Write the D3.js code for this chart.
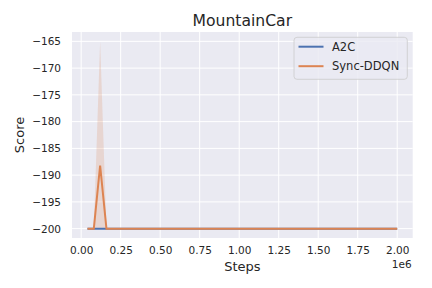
<!DOCTYPE html>
<html>
<head>
    <script src="https://d3js.org/d3.v7.min.js"></script>
    <style>
        body { margin: 0; background: #fff; }
        text { font-family: "DejaVu Sans", sans-serif; fill: #262626; }
    </style>
</head>
<body>
    <div id="chart"></div>

    <script>
        // Data (steps, mean score, CI band)
        const steps = [40000, 80000, 120000, 160000, 2000000];
        const a2c = [-200, -200, -200, -200, -200];
        const ddqn = [-200, -200, -188.2, -200, -200];
        const ddqnLow = [-200, -200, -200, -200, -200];
        const ddqnHigh = [-200, -200, -165, -200, -200];
        const seriesNames = ["A2C", "Sync-DDQN"];
        const colors = ["#4c72b0", "#dd8452"];
        const xTicks = [0, 250000, 500000, 750000, 1000000, 1250000, 1500000, 1750000, 2000000];
        const yTicks = [-200, -195, -190, -185, -180, -175, -170, -165];

        const width = 432, height = 288;
        const plot = { left: 72, right: 412.7, top: 32, bottom: 238 };

        const svg = d3.select("#chart").append("svg")
            .attr("width", width)
            .attr("height", height);

        // matplotlib style 5% margins
        const xMin = d3.min(steps), xMax = d3.max(steps);
        const xPad = (xMax - xMin) * 0.05;
        const x = d3.scaleLinear()
            .domain([xMin - xPad, xMax + xPad])
            .range([plot.left, plot.right]);

        const yMin = -200, yMax = d3.max(ddqnHigh);
        const yPad = (yMax - yMin) * 0.05;
        const y = d3.scaleLinear()
            .domain([yMin - yPad, yMax + yPad])
            .range([plot.bottom, plot.top]);

        // Background
        svg.append("rect")
            .attr("x", plot.left).attr("y", plot.top)
            .attr("width", plot.right - plot.left).attr("height", plot.bottom - plot.top)
            .attr("fill", "#eaeaf2");

        // Grid
        svg.append("g").selectAll("line").data(xTicks).join("line")
            .attr("x1", d => x(d)).attr("x2", d => x(d))
            .attr("y1", plot.top).attr("y2", plot.bottom)
            .attr("stroke", "#fff").attr("stroke-width", 1);
        svg.append("g").selectAll("line").data(yTicks).join("line")
            .attr("x1", plot.left).attr("x2", plot.right)
            .attr("y1", d => y(d)).attr("y2", d => y(d))
            .attr("stroke", "#fff").attr("stroke-width", 1);

        // Axes (no ticks, no domain line)
        svg.append("g")
            .attr("transform", `translate(0,${plot.bottom})`)
            .call(d3.axisBottom(x).tickValues(xTicks).tickSize(0).tickPadding(9)
                .tickFormat(d => (d / 1e6).toFixed(2)));
        svg.append("g")
            .attr("transform", `translate(${plot.left},0)`)
            .call(d3.axisLeft(y).tickValues(yTicks).tickSize(0).tickPadding(11)
                .tickFormat(d => "\u2212" + Math.abs(d)));
        svg.selectAll(".domain").remove();
        svg.selectAll(".tick text")
            .attr("font-family", "DejaVu Sans, sans-serif")
            .attr("font-size", 10.5)
            .attr("fill", "#262626");

        // CI band
        const idx = d3.range(steps.length);
        svg.append("path")
            .datum(idx)
            .attr("fill", colors[1])
            .attr("fill-opacity", 0.2)
            .attr("d", d3.area()
                .x(i => x(steps[i]))
                .y0(i => y(ddqnLow[i]))
                .y1(i => y(ddqnHigh[i])));

        // Lines
        const line = vals => d3.line()
            .x(i => x(steps[i]))
            .y(i => y(vals[i]))(idx);
        [a2c, ddqn].forEach((vals, k) => {
            svg.append("path")
                .attr("d", line(vals))
                .attr("fill", "none")
                .attr("stroke", colors[k])
                .attr("stroke-width", 2);
        });

        // Title and labels
        const cx = (plot.left + plot.right) / 2;
        svg.append("text")
            .attr("x", cx).attr("y", 25.5)
            .attr("text-anchor", "middle")
            .attr("font-size", 15.6)
            .text("MountainCar");
        svg.append("text")
            .attr("x", cx).attr("y", 271)
            .attr("text-anchor", "middle")
            .attr("font-size", 13)
            .text("Steps");
        svg.append("text")
            .attr("transform", `translate(24,${(plot.top + plot.bottom) / 2}) rotate(-90)`)
            .attr("text-anchor", "middle")
            .attr("font-size", 13)
            .text("Score");
        svg.append("text")
            .attr("x", plot.right - 1).attr("y", 267.5)
            .attr("text-anchor", "end")
            .attr("font-size", 10.5)
            .text("1e6");

        // Legend
        const lg = svg.append("g");
        lg.append("rect")
            .attr("x", 294).attr("y", 37.3)
            .attr("width", 113.3).attr("height", 42)
            .attr("rx", 3)
            .attr("fill", "#eaeaf2")
            .attr("fill-opacity", 0.8)
            .attr("stroke", "#cccccc")
            .attr("stroke-width", 0.8);
        seriesNames.forEach((name, k) => {
            const ly = 46.7 + k * 19.5;
            lg.append("line")
                .attr("x1", 298.5).attr("x2", 323.5)
                .attr("y1", ly).attr("y2", ly)
                .attr("stroke", colors[k]).attr("stroke-width", 2);
            lg.append("text")
                .attr("x", 332).attr("y", ly + 4)
                .attr("font-size", 11.5)
                .text(name);
        });
    </script>
</body>
</html>
